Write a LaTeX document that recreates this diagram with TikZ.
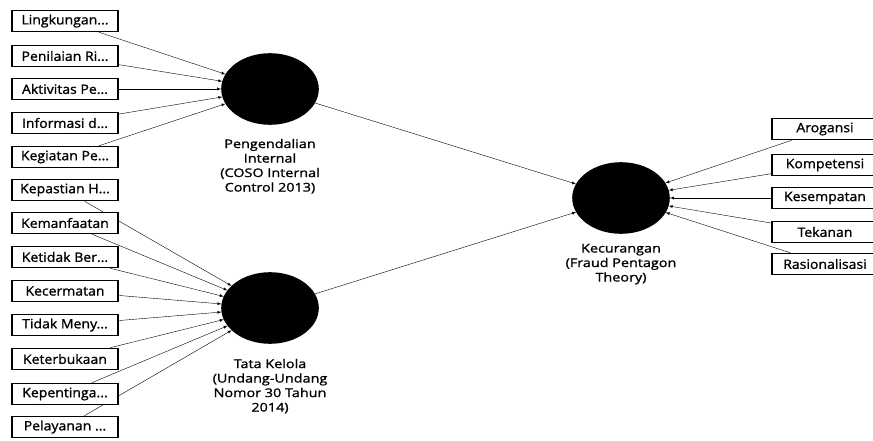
\documentclass[tikz,border=0pt]{standalone}
\usepackage{fontspec}
\setmainfont{Open Sans}[FakeBold=1.2, FakeStretch=1.08]
\newfontfamily\lblfont{Open Sans}[FakeBold=1.2, FakeStretch=1.2]
\usetikzlibrary{shapes.geometric,backgrounds}

\begin{document}
\begin{tikzpicture}[x=1pt, y=-1pt, >=latex, line width=1.6pt,
    box/.style = {draw, fill=white, minimum width=106pt, minimum height=21pt, inner sep=1pt,
                  font=\fontsize{13}{14}\selectfont},
    lv/.style = {draw, fill=black, ellipse, minimum width=96pt, minimum height=70pt},
    lbl/.style = {align=center, font=\lblfont\fontsize{12}{14.5}\selectfont}]
    \useasboundingbox (0,0) rectangle (873,441);

    % latent variables
    \node[lv] (pi) at (270,89)  {};
    \node[lv] (tk) at (270,308) {};
    \node[lv] (kc) at (621,198) {};
    \node[lbl, below=10pt] (pil) at (pi.south) {Pengendalian\\Internal\\(COSO Internal\\Control 2013)};
    \node[lbl, below=11pt] (tkl) at (tk.south) {Tata Kelola\\(Undang-Undang\\Nomor 30 Tahun\\2014)};
    \node[lbl, below=6pt]  (kcl) at (kc.south) {Kecurangan\\(Fraud Pentagon\\Theory)};

    % indicators Pengendalian Internal
    \node[box] (p1) at (65,21)  {Lingkungan...};
    \node[box] (p2) at (65,56)  {Penilaian Ri...};
    \node[box] (p3) at (65,89)  {Aktivitas Pe...};
    \node[box] (p4) at (65,123) {Informasi d...};
    \node[box] (p5) at (65,157) {Kegiatan Pe...};

    % indicators Tata Kelola
    \node[box] (t1) at (65,190) {Kepastian H...};
    \node[box] (t2) at (65,223) {Kemanfaatan};
    \node[box] (t3) at (65,257) {Ketidak Ber...};
    \node[box] (t4) at (65,291) {Kecermatan};
    \node[box] (t5) at (65,325) {Tidak Meny...};
    \node[box] (t6) at (65,359) {Keterbukaan};
    \node[box] (t7) at (65,394) {Kepentinga...};
    \node[box] (t8) at (65,427) {Pelayanan ...};

    % indicators Kecurangan
    \node[box] (k1) at (825,129) {Arogansi};
    \node[box] (k2) at (825,165) {Kompetensi};
    \node[box] (k3) at (825,198) {Kesempatan};
    \node[box] (k4) at (825,232) {Tekanan};
    \node[box] (k5) at (825,264) {Rasionalisasi};

    \begin{pgfonlayer}{background}
        \draw[->] (p1) to (pi);
        \draw[->] (p2) to (pi);
        \draw[->] (p3) to (pi);
        \draw[->] (p4) to (pi);
        \draw[->] (p5) to (pi);
        \draw[->] (t1) to (tk);
        \draw[->] (t2) to (tk);
        \draw[->] (t3) to (tk);
        \draw[->] (t4) to (tk);
        \draw[->] (t5) to (tk);
        \draw[->] (t6) to (tk);
        \draw[->] (t7) to (tk);
        \draw[->] (t8) to (tk);
        \draw[->] (k1) to (kc);
        \draw[->] (k2) to (kc);
        \draw[->] (k3) to (kc);
        \draw[->] (k4) to (kc);
        \draw[->] (k5) to (kc);
    \end{pgfonlayer}

    \draw[->] (pi) to (kc);
    \draw[->] (tk) to (kc);
\end{tikzpicture}
\end{document}
